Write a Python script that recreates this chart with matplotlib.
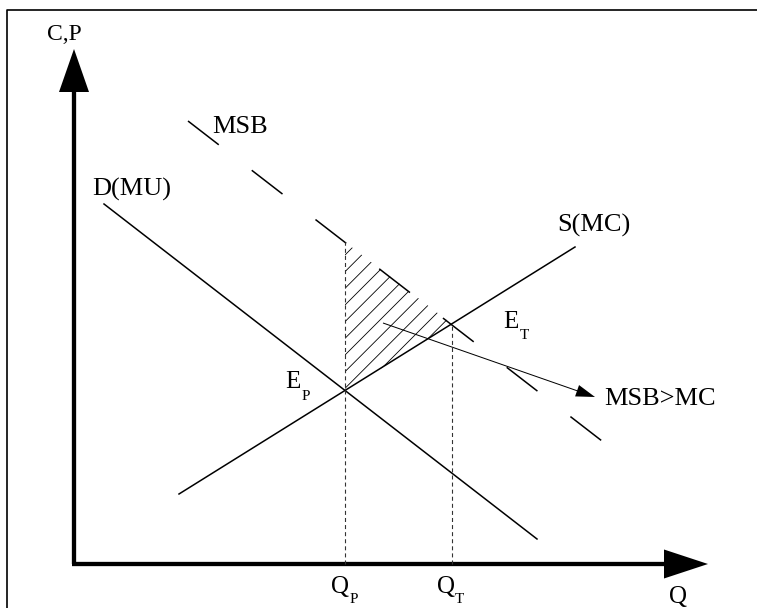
import numpy as np
import matplotlib
matplotlib.use("Agg")
import matplotlib.pyplot as plt

plt.rcParams["font.family"] = ["Liberation Serif", "DejaVu Serif"]
plt.rcParams["lines.scale_dashes"] = False
plt.rcParams["hatch.linewidth"] = 0.6

# curves as (Q, P) end points, 1 unit = 10 px
d_q = [3.0, 46.3]
d_p = [36.0, 2.5]
s_q = [10.5, 50.1]
s_p = [7.0, 31.7]
msb_q = [11.4, 52.8]
msb_p = [44.3, 12.3]

# equilibria
q_p, p_p = 27.1, 17.3      # E_P
q_t, p_t = 37.8, 24.0      # E_T
msb_at_qp = 32.2

# gain arrow
arr_q = [30.9, 52.1]
arr_p = [24.1, 16.7]

q_max, p_max = 63.4, 51.5

fig = plt.figure(figsize=(7.57, 6.08), dpi=100)
ax = fig.add_axes([0, 0, 1, 1])
ax.set_xlim(-7.4, 68.3)
ax.set_ylim(-4.4, 56.4)
ax.axis("off")

# frame
ax.plot([-6.7, -6.7, 68.3], [-4.4, 55.4, 55.4], color="k", lw=1.2)

# axes with arrows
ax.arrow(0, 0, 0, p_max, width=0.43, head_width=3.0, head_length=4.3,
         length_includes_head=True, color="k", lw=0)
ax.arrow(-0.2, 0, q_max + 0.2, 0, width=0.43, head_width=2.9, head_length=4.4,
         length_includes_head=True, color="k", lw=0)

# shaded welfare gain
ax.fill([q_p, q_p, q_t], [msb_at_qp, p_p, p_t], facecolor="none",
        edgecolor="k", hatch="//", lw=0)

ax.plot(d_q, d_p, color="k", lw=1.1)
ax.plot(s_q, s_p, color="k", lw=1.1)
ax.plot(msb_q, msb_p, color="k", lw=1.1, dashes=(28, 30))

ax.plot([q_p, q_p], [0, msb_at_qp], color="#333333", lw=0.8, dashes=(2.9, 2.2))
ax.plot([q_t, q_t], [0, p_t], color="#333333", lw=0.8, dashes=(2.9, 2.2))

ax.arrow(arr_q[0], arr_p[0], arr_q[1] - arr_q[0], arr_p[1] - arr_p[0],
         width=0.1, head_width=1.2, head_length=1.9,
         length_includes_head=True, color="k", lw=0)

big = 19
ax.text(-0.95, 52.4, "C,P", fontsize=17, ha="center", va="baseline")
ax.text(13.8, 43.1, "MSB", fontsize=big, va="baseline")
ax.text(1.8, 36.8, "D(MU)", fontsize=big, va="baseline")
ax.text(48.3, 33.2, "S(MC)", fontsize=big, va="baseline")
ax.text(53.0, 15.9, "MSB>MC", fontsize=big, va="baseline")

ax.text(42.9, 23.6, "E", fontsize=18, va="baseline")
ax.text(44.6, 22.5, "T", fontsize=11, va="baseline")
ax.text(21.1, 17.6, "E", fontsize=18, va="baseline")
ax.text(22.8, 16.4, "P", fontsize=11, va="baseline")

ax.text(25.7, -2.9, "Q", fontsize=18, va="baseline")
ax.text(27.6, -3.9, "P", fontsize=11, va="baseline")
ax.text(36.3, -2.9, "Q", fontsize=18, va="baseline")
ax.text(38.1, -3.9, "T", fontsize=11, va="baseline")
ax.text(59.5, -3.9, "Q", fontsize=18, va="baseline")

fig.savefig("out.png", dpi=100)
